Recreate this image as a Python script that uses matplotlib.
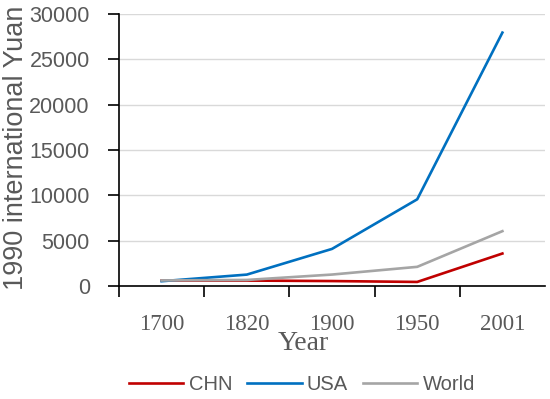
import matplotlib.pyplot as plt
from matplotlib.ticker import FixedLocator

# GDP per capita, 1990 international Yuan
years = ["1700", "1820", "1900", "1950", "2001"]
chn = [600, 600, 545, 448, 3583]
usa = [527, 1257, 4091, 9561, 27948]
world = [615, 667, 1262, 2113, 6049]

gray = "#595959"

fig = plt.figure(figsize=(5.5, 3.99), dpi=100)
ax = fig.add_axes([119 / 550, 1 - 286 / 399, 426 / 550, 272 / 399])

x = range(len(years))
ax.plot(x, chn, color="#C00000", lw=1.9, label="CHN")
ax.plot(x, usa, color="#0070C0", lw=1.9, label="USA")
ax.plot(x, world, color="#A5A5A5", lw=1.9, label="World")

ax.set_xlim(-0.5, 4.5)
ax.set_ylim(0, 30000)
ax.set_yticks(range(0, 30001, 5000))
ax.yaxis.grid(True, color="#D9D9D9", lw=1.0)
ax.set_axisbelow(True)

# category boundaries get the ticks, labels sit in the middle
ax.xaxis.set_major_locator(FixedLocator([-0.5, 0.5, 1.5, 2.5, 3.5]))
ax.xaxis.set_major_formatter(plt.NullFormatter())
ax.xaxis.set_minor_locator(FixedLocator(list(x)))
ax.set_xticklabels(years, minor=True)
ax.tick_params(axis="x", which="major", length=8, width=1.2, color="black", direction="out")
ax.tick_params(axis="x", which="minor", length=0, pad=20, labelsize=16.5, labelcolor=gray)
for lab in ax.get_xticklabels(minor=True):
    lab.set_family("Liberation Serif")
ax.tick_params(axis="y", length=8, width=1.2, color="black", labelsize=15.5,
               labelcolor=gray, pad=13)
for lab in ax.get_yticklabels():
    lab.set_family("Liberation Sans")

for s in ["top", "right"]:
    ax.spines[s].set_visible(False)
ax.spines["left"].set_linewidth(1.2)
ax.spines["bottom"].set_linewidth(1.2)

fig.text(16 / 550, 1 - 148 / 399, "1990 international Yuan", rotation=90, ha="center",
         va="center", fontsize=19.5, color=gray, family="Liberation Sans")
fig.text(303 / 550, 1 - 350 / 399, "Year", ha="center", va="baseline", fontsize=20,
         color=gray, family="Liberation Serif")

leg = fig.legend(loc="center", bbox_to_anchor=(302 / 550, 1 - 385 / 399), ncol=3,
                 frameon=False, handlelength=2.7, handletextpad=0.26, columnspacing=0.75,
                 prop={"family": "Liberation Sans", "size": 14.5})
for t in leg.get_texts():
    t.set_color(gray)

fig.savefig("out.png", dpi=100)
